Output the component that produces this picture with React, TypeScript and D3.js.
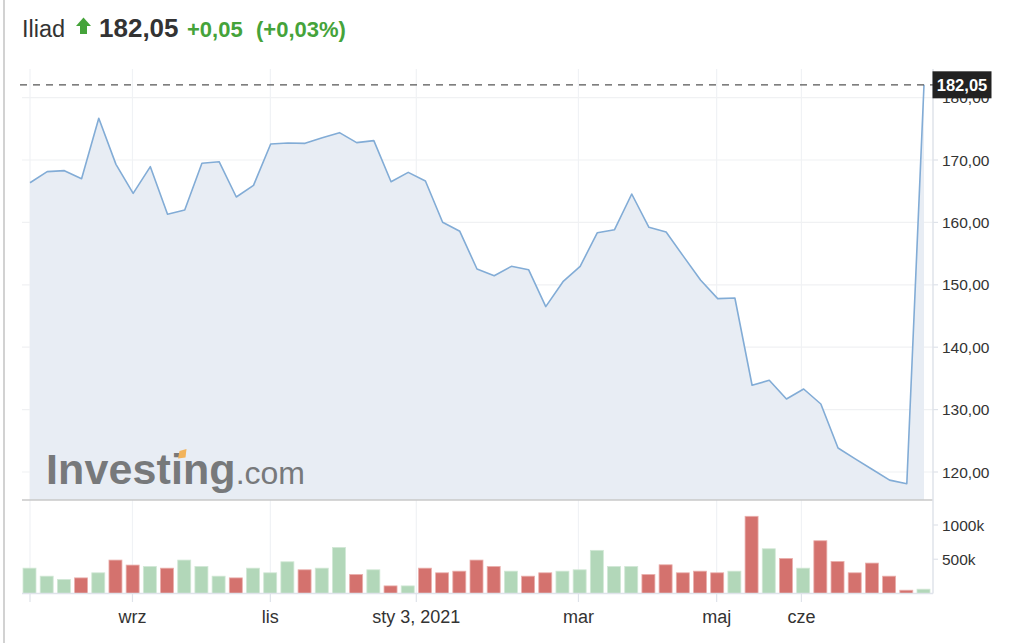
import React from 'react';
import * as d3 from 'd3';

const stockName = 'Iliad';
const lastPrice = 182.05;
const changeText = '+0,05';
const changePctText = '(+0,03%)';

const prices = [
  166.36, 168.13, 168.29, 167.0, 176.68, 169.3, 164.66, 168.93, 161.3, 161.99,
  169.47, 169.73, 164.07, 165.94, 172.56, 172.72, 172.67, 173.57, 174.38, 172.78,
  173.1, 166.52, 168.02, 166.63, 160.03, 158.57, 152.53, 151.46, 152.96, 152.42,
  146.5, 150.5, 152.96, 158.35, 158.83, 164.55, 159.21, 158.46, 154.6, 150.77,
  147.78, 147.88, 133.9, 134.7, 131.7, 133.3, 130.9, 123.85, 122.1, 120.4,
  118.7, 118.13, 182.05,
];

// volume in thousands
const volumes = [
  370, 253, 205, 228, 302, 488, 415, 395, 370, 488,
  395, 253, 228, 370, 302, 463, 346, 370, 673, 278,
  346, 111, 111, 370, 302, 326, 488, 395, 326, 253,
  302, 326, 346, 630, 395, 395, 278, 419, 302, 326,
  302, 326, 1127, 653, 512, 370, 770, 468, 302, 444,
  253, 48, 63,
];

const xTickPositions = [0, 5.96, 13.98, 22.47, 31.9, 39.94, 44.87];
const xTickLabels = ['', 'wrz', 'lis', 'sty 3, 2021', 'mar', 'maj', 'cze'];
const priceTicks = [120, 130, 140, 150, 160, 170, 180];
const volumeTicks = [500, 1000];

const FONT = '"Liberation Sans", Arial, Helvetica, sans-serif';

export default function App() {
  const W = 1024;
  const H = 643;
  const left = 22;
  const axisX = 933;
  const panelTop = 69;
  const panelBottom = 500;
  const volBottom = 593.5;

  const x = d3.scaleLinear().domain([0, prices.length - 1]).range([30, 924]);
  const y = d3.scaleLinear().domain([120, 180]).range([472, 97.6]);
  const yv = d3.scaleLinear().domain([0, 1000]).range([volBottom, 525]);

  const fmt = (v: number) => d3.format('.2f')(v).replace('.', ',');

  const line = d3.line<number>().x((_, i) => x(i)).y((d) => y(d));
  const area = d3
    .area<number>()
    .x((_, i) => x(i))
    .y0(panelBottom)
    .y1((d) => y(d));

  const green = '#45a33a';
  const barW = 13;
  const yLast = y(lastPrice);

  return (
    <svg
      width={W}
      height={H}
      style={{ position: 'absolute', left: 0, top: 0, background: '#fff' }}
      fontFamily={FONT}
    >
      <rect x={0} y={0} width={W} height={H} fill="#fff" />
      {/* left border */}
      <rect x={3} y={0} width={2} height={H} fill="#d2d2d2" />

      {/* header */}
      <text x={22} y={37} fontSize={23.5} fill="#333">{stockName}</text>
      <g fill={green}>
        <path d="M76,26 L83.5,17.5 L91,26 Z" />
        <rect x={80} y={25.5} width={7} height={8.5} />
      </g>
      <text x={99} y={37} fontSize={26} fontWeight="bold" fill="#333">
        {fmt(lastPrice)}
      </text>
      <text x={187} y={37} fontSize={22} fontWeight="bold" fill={green}>
        {changeText}
      </text>
      <text x={256} y={37} fontSize={22} fontWeight="bold" fill={green}>
        {changePctText}
      </text>

      {/* vertical grid lines */}
      {xTickPositions.map((p, i) => (
        <g key={'vg' + i}>
          <line x1={x(p)} x2={x(p)} y1={panelTop} y2={volBottom} stroke="#f0f2f5" strokeWidth={1.2} />
          <line x1={x(p)} x2={x(p)} y1={volBottom} y2={602} stroke="#dfe3ea" strokeWidth={1.2} />
        </g>
      ))}

      {/* horizontal grid lines */}
      {priceTicks.map((t) => (
        <line key={'hg' + t} x1={left} x2={axisX} y1={y(t)} y2={y(t)} stroke="#f0f1f3" strokeWidth={1.2} />
      ))}

      {/* area + line */}
      <path d={area(prices) || ''} fill="#e8edf4" />
      <path d={line(prices) || ''} fill="none" stroke="#82acd6" strokeWidth={1.6} strokeLinejoin="round" />

      {/* logo watermark */}
      <g fill="#77797b">
        <text x={46} y={483.5}>
          <tspan fontSize={43} fontWeight="bold" letterSpacing={0.1}>Investing</tspan>
          <tspan fontSize={32} dx={0}>.com</tspan>
        </text>
        <path d="M179.5,451 L186.5,449 L185.5,457.5 L178,458.5 Z" fill="#f2b35a" />
      </g>

      {/* panel separator */}
      <line x1={left} x2={axisX} y1={panelBottom} y2={panelBottom} stroke="#c9c9c9" strokeWidth={1.5} />

      {/* volume bars */}
      {volumes.map((v, i) => {
        const up = i === 0 || prices[i] >= prices[i - 1];
        return (
          <rect
            key={'vb' + i}
            x={x(i) - barW / 2 - 0.5}
            y={yv(v)}
            width={barW}
            height={volBottom - yv(v)}
            fill={up ? '#b2d7b9' : '#d4726e'}
            stroke={up ? '#d2e8d6' : '#eab0ad'}
            strokeWidth={0.8}
          />
        );
      })}
      <line x1={left} x2={axisX} y1={volBottom} y2={volBottom} stroke="#dfe3ea" strokeWidth={1.5} />

      {/* right axis */}
      <line x1={axisX} x2={axisX} y1={panelTop} y2={volBottom} stroke="#dfe3ea" strokeWidth={1.5} />
      {priceTicks.map((t) => (
        <g key={'pt' + t}>
          <line x1={axisX} x2={axisX + 5} y1={y(t)} y2={y(t)} stroke="#dfe3ea" strokeWidth={1.2} />
          <text x={942} y={y(t)} dy="0.36em" fontSize={15.5} fill="#333">{fmt(t)}</text>
        </g>
      ))}
      {volumeTicks.map((t) => (
        <g key={'vt' + t}>
          <line x1={axisX} x2={axisX + 5} y1={yv(t)} y2={yv(t)} stroke="#dfe3ea" strokeWidth={1.2} />
          <text x={942} y={yv(t)} dy="0.36em" fontSize={15.5} fill="#333">{t + 'k'}</text>
        </g>
      ))}

      {/* last price dashed line + label */}
      <line x1={20} x2={axisX} y1={yLast} y2={yLast} stroke="#555" strokeWidth={1.3} strokeDasharray="7,6" />
      <rect x={axisX - 0.5} y={yLast - 13.5} width={59} height={27} fill="#222" />
      <text x={axisX + 29} y={yLast} dy="0.36em" textAnchor="middle" fontSize={16.5} fontWeight="bold" fill="#fff">
        {fmt(lastPrice)}
      </text>

      {/* x axis labels */}
      {xTickPositions.map((p, i) =>
        xTickLabels[i] ? (
          <text key={'xl' + i} x={x(p)} y={623} textAnchor="middle" fontSize={18} fill="#333">
            {xTickLabels[i]}
          </text>
        ) : null
      )}
    </svg>
  );
}
